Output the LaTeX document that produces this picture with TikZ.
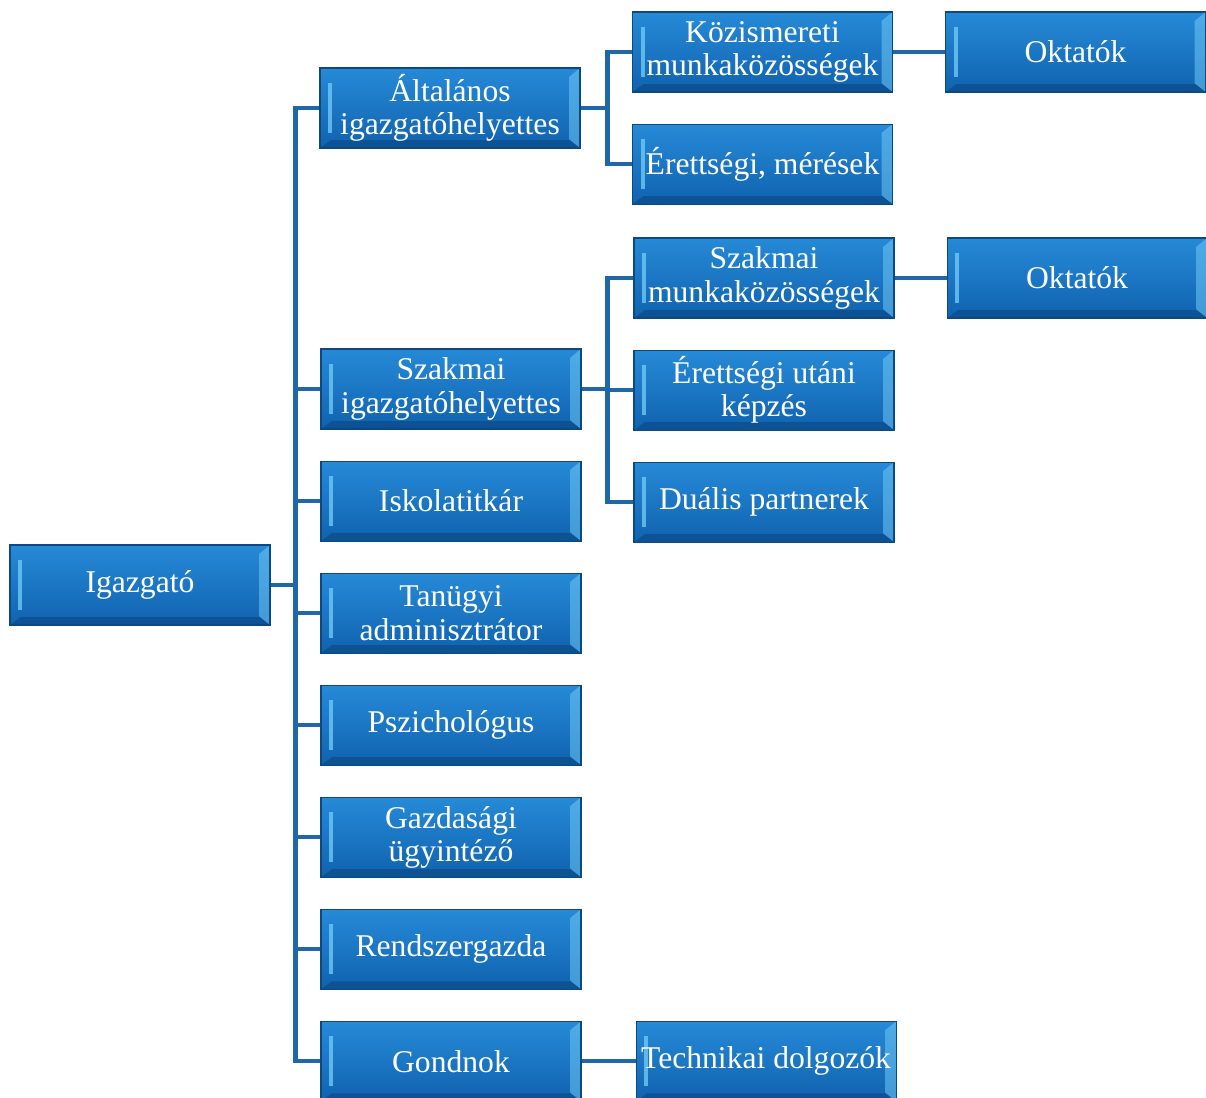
\documentclass[tikz,border=0pt]{standalone}
\usepackage{fontspec}
\setmainfont{Liberation Serif}
\usepackage{tikz}
\usetikzlibrary{positioning}
\definecolor{boxtop}{RGB}{38,138,215}
\definecolor{boxbot}{RGB}{16,98,175}
\definecolor{boxline}{RGB}{12,72,130}
\definecolor{bevlight}{RGB}{110,200,245}
\definecolor{bevdark}{RGB}{10,70,130}
\definecolor{connblue}{RGB}{30,104,168}
\tikzset{
org/.style={rectangle, draw=boxline, line width=0.6pt, top color=boxtop, bottom color=boxbot, % the blue boxes
  minimum width=5.2cm, minimum height=1.6cm, inner sep=1pt, align=center,
  text=white, font=\fontsize{18}{19}\selectfont,
  path picture={ % bevel edges of the box
    \fill[bevlight,opacity=0.8] ([xshift=0.16cm,yshift=-0.3cm]path picture bounding box.north west) rectangle ([xshift=0.24cm,yshift=0.3cm]path picture bounding box.south west);
    \fill[bevlight,opacity=0.55] (path picture bounding box.north east) -- ++(-0.22,-0.18) -- ([xshift=-0.22cm,yshift=0.18cm]path picture bounding box.south east) -- (path picture bounding box.south east) -- cycle;
    \fill[bevdark,opacity=0.6] (path picture bounding box.south west) -- ++(0.22,0.16) -- ([xshift=-0.22cm,yshift=0.16cm]path picture bounding box.south east) -- (path picture bounding box.south east) -- cycle;
  }},
conn/.style={draw=connblue, line width=2.4pt}, % the connecting lines
node distance=0.62cm, % gap between boxes in a column
}
\begin{document}
\begin{tikzpicture}
\useasboundingbox (0,0) rectangle (24.12,-21.96);

\node[org] (igazgato) at (2.8,-11.7) {Igazgató};
\node[org] (altalanos) at (9.0,-2.16) {Általános\\igazgatóhelyettes};
\node[org] (szakmai) at (9.02,-7.78) {Szakmai\\igazgatóhelyettes};
\node[org, below=of szakmai] (iskola) {Iskolatitkár};
\node[org, below=of iskola] (tanugyi) {Tanügyi\\adminisztrátor};
\node[org, below=of tanugyi] (pszich) {Pszichológus};
\node[org, below=of pszich] (gazd) {Gazdasági\\ügyintéző};
\node[org, below=of gazd] (rendszer) {Rendszergazda};
\node[org, below=of rendszer] (gondnok) {Gondnok};

\node[org] (kozism) at (15.25,-1.04) {Közismereti\\munkaközösségek};
\node[org, below=of kozism] (erettsegi) {Érettségi, mérések};
\node[org, right=1.04cm of kozism] (oktatok1) {Oktatók};

\node[org] (szakmk) at (15.28,-5.56) {Szakmai\\munkaközösségek};
\node[org, below=of szakmk] (erettutani) {Érettségi utáni\\képzés};
\node[org, below=of erettutani] (dualis) {Duális partnerek};
\node[org, right=1.04cm of szakmk] (oktatok2) {Oktatók};

\node[org, right=1.08cm of gondnok] (technikai) {Technikai dolgozók};

% connectors
\foreach \n in {altalanos,szakmai,iskola,tanugyi,pszich,gazd,rendszer,gondnok}
  \draw[conn] (igazgato.east) -- ++(0.5,0) |- (\n.west);
\foreach \n in {kozism,erettsegi}
  \draw[conn] (altalanos.east) -- ++(0.54,0) |- (\n.west);
\foreach \n in {szakmk,erettutani,dualis}
  \draw[conn] (szakmai.east) -- ++(0.52,0) |- (\n.west);
\draw[conn] (kozism) -- (oktatok1);
\draw[conn] (szakmk) -- (oktatok2);
\draw[conn] (gondnok) -- (technikai);

\end{tikzpicture}
\end{document}
